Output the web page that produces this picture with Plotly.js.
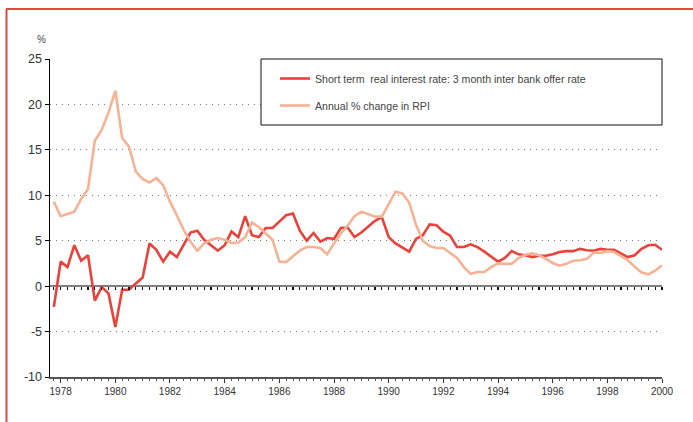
<!DOCTYPE html>
<html>
<head>
<meta charset="utf-8">
<script src="https://cdn.plot.ly/plotly-3.0.1.min.js"></script>
<style>
  html, body { margin: 0; padding: 0; background: #ffffff; }
  #chart { width: 693px; height: 422px; }
</style>
</head>
<body>
<div id="chart"></div>
<script>
// Quarterly observations, first quarter plotted at 1977.75 (Q4 1977)
var firstQuarter = 1977.75;
var quarterStep = 0.25;

var seriesNames = [
  "Short term  real interest rate: 3 month inter bank offer rate",
  "Annual % change in RPI"
];

var realRate = [
  -2.3, 2.7, 2.1, 4.5, 2.8, 3.4, -1.6, -0.1, -0.8, -4.5,
  -0.4, -0.4, 0.3, 0.95, 4.7, 4.0, 2.7, 3.8, 3.2, 4.6,
  5.9, 6.1, 5.1, 4.5, 3.9, 4.5, 6.0, 5.4, 7.7, 5.6,
  5.4, 6.4, 6.4, 7.1, 7.8, 8.0, 6.1, 5.0, 5.85, 4.9,
  5.3, 5.2, 6.4, 6.45, 5.4, 5.9, 6.5, 7.2, 7.6, 5.4,
  4.7, 4.2, 3.8, 5.2, 5.6, 6.8, 6.7, 6.0, 5.55, 4.3,
  4.3, 4.6, 4.3, 3.8, 3.2, 2.7, 3.1, 3.85, 3.5, 3.4,
  3.2, 3.35, 3.35, 3.5, 3.75, 3.85, 3.85, 4.1, 3.95, 3.9,
  4.1, 4.0, 4.0, 3.6, 3.2, 3.4, 4.1, 4.5, 4.55, 4.0
];

var rpiChange = [
  9.3, 7.7, 7.95, 8.2, 9.6, 10.7, 16.0, 17.2, 19.1, 21.5,
  16.3, 15.35, 12.6, 11.8, 11.4, 11.9, 11.1, 9.3, 7.8, 6.2,
  4.9, 3.9, 4.7, 5.1, 5.3, 5.1, 4.75, 4.8, 5.4, 7.0,
  6.5, 5.85, 5.1, 2.7, 2.65, 3.3, 3.9, 4.3, 4.3, 4.2,
  3.5, 4.7, 5.8, 6.65, 7.7, 8.2, 7.9, 7.65, 7.65, 9.1,
  10.4, 10.2, 9.2, 6.75, 5.0, 4.4, 4.2, 4.2, 3.7, 3.1,
  2.1, 1.35, 1.55, 1.55, 2.1, 2.5, 2.45, 2.45, 3.1, 3.45,
  3.6, 3.4, 3.0, 2.55, 2.25, 2.45, 2.8, 2.85, 3.0, 3.7,
  3.65, 3.85, 3.75, 3.3, 2.85, 2.15, 1.5, 1.3, 1.7, 2.3
];

var yearTicks = [1978, 1980, 1982, 1984, 1986, 1988, 1990, 1992, 1994, 1996, 1998, 2000];
var yTicks = [-10, -5, 0, 5, 10, 15, 20, 25];

var quarters = realRate.map(function (_, i) { return firstQuarter + quarterStep * i; });

var RED = "#e8423a";
var SALMON = "#f6b294";
var FONT = "Liberation Sans, Arial, sans-serif";

var traces = [
  {
    x: quarters, y: realRate, type: "scatter", mode: "lines",
    name: seriesNames[0], legendgroup: "a",
    line: { color: RED, width: 2.6 }
  },
  {
    x: quarters, y: rpiChange, type: "scatter", mode: "lines",
    name: seriesNames[1], legendgroup: "b",
    line: { color: SALMON, width: 2.6 }
  }
];

// plot area in pixels: x 50..662, y 59..377
var L = 50, R = 662, T = 59, B = 377;
function px(x) { return (x - L) / (R - L); }
function py(y) { return (B - y) / (B - T); }

var layout = {
  width: 693, height: 422,
  margin: { l: L, r: 693 - R, t: T, b: 422 - B, pad: 0 },
  paper_bgcolor: "#ffffff",
  plot_bgcolor: "#ffffff",
  font: { family: FONT, color: "#333333", size: 10 },
  showlegend: true,
  legend: {
    x: px(275), xanchor: "left",
    y: py(64), yanchor: "top",
    bgcolor: "rgba(0,0,0,0)",
    borderwidth: 0,
    traceorder: "grouped",
    tracegroupgap: 8,
    font: { family: FONT, size: 10.6, color: "#444444" }
  },
  xaxis: {
    range: [1977.61, 2000],
    tickvals: yearTicks,
    ticktext: yearTicks.map(String),
    ticks: "outside", ticklen: 4, tickwidth: 1, tickcolor: "#333333",
    showline: true, linecolor: "#555555", linewidth: 2,
    showgrid: false, zeroline: false,
    tickfont: { family: FONT, size: 10, color: "#333333" },
    minor: { dtick: 0.25, tick0: 1977.75, ticks: "outside", ticklen: 2, tickcolor: "#555555", showgrid: false }
  },
  xaxis2: {
    overlaying: "x", anchor: "free", position: py(286.3),
    range: [1977.61, 2000],
    tick0: 1977.75, dtick: 0.25,
    ticks: "outside", ticklen: 3, tickwidth: 1.3, tickcolor: "#111111",
    showticklabels: false, showline: false, showgrid: false, zeroline: false
  },
  yaxis: {
    range: [-10, 25],
    tickvals: yTicks,
    ticktext: yTicks.map(String),
    ticks: "outside", ticklen: 4, tickwidth: 1, tickcolor: "#000000",
    showline: true, linecolor: "#000000", linewidth: 1.5,
    showgrid: true, gridcolor: "#777777", gridwidth: 1, griddash: "1px,5px",
    zeroline: true, zerolinecolor: "#808080", zerolinewidth: 2,
    tickfont: { family: FONT, size: 12.5, color: "#333333" }
  },
  shapes: [
    // legend box
    { type: "rect", xref: "paper", yref: "paper", layer: "above",
      x0: px(261), x1: px(662), y0: py(125), y1: py(59),
      fillcolor: "#ffffff", line: { color: "#111111", width: 1 } },
    // red frame: top and left edges
    { type: "line", xref: "paper", yref: "paper", layer: "above",
      x0: px(6), x1: px(693), y0: py(9), y1: py(9),
      line: { color: "#e8453c", width: 2 } },
    { type: "line", xref: "paper", yref: "paper", layer: "above",
      x0: px(6.5), x1: px(6.5), y0: py(9), y1: py(422),
      line: { color: "#e8453c", width: 2 } }
  ],
  annotations: [
    { text: "%", xref: "paper", yref: "paper", x: px(41), y: py(40),
      xanchor: "center", yanchor: "middle", showarrow: false,
      font: { family: FONT, size: 10, color: "#444444" } }
  ]
};

// invisible helper so the zero-line tick axis is drawn
traces.push({ x: [1978], y: [0], xaxis: "x2", yaxis: "y", type: "scatter", mode: "markers",
  marker: { opacity: 0 }, showlegend: false, hoverinfo: "skip" });

Plotly.newPlot("chart", traces, layout, { displayModeBar: false, staticPlot: true });
</script>
</body>
</html>
